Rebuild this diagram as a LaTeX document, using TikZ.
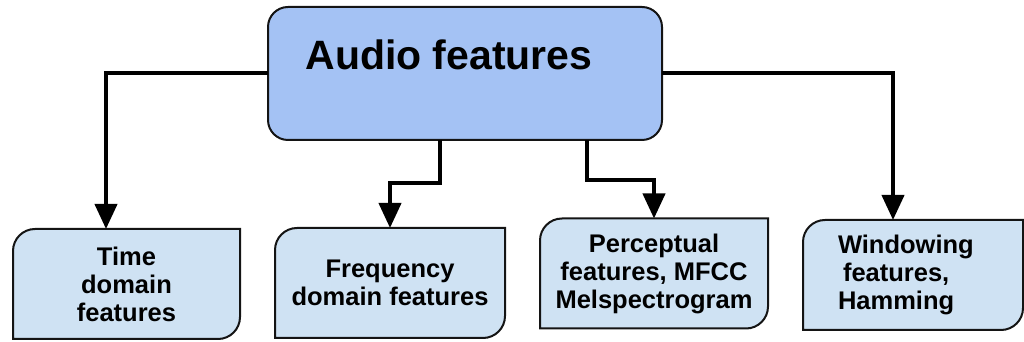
\documentclass[tikz,border=0pt]{standalone}
\usepackage{fontspec}
\setmainfont{Liberation Sans}
\usetikzlibrary{arrows.meta,backgrounds,calc}

\definecolor{topfill}{HTML}{A4C2F4}
\definecolor{lowfill}{HTML}{CFE2F3}
\definecolor{edge}{HTML}{141414}

\tikzset{
  rootbox/.style={draw=edge, line width=2pt, fill=topfill, rounded corners=20pt,
    minimum width=394pt, minimum height=133pt, inner sep=0pt, outer sep=0pt},
  leafbox/.style={inner sep=0pt, outer sep=0pt, minimum height=110pt,
    align=center, font=\fontsize{25.5}{28}\selectfont\bfseries},
  leafshape/.style={draw=edge, line width=2pt, fill=lowfill},
  link/.style={line width=4pt, draw=black, -{Triangle[width=22pt,length=25pt]}},
}

% box with rounded top-left and bottom-right corners, sharp elsewhere
\newcommand\leafoutline[1]{%
  \draw[leafshape] (#1.south west) -- ([yshift=-22pt]#1.north west)
    arc[start angle=180,end angle=90,radius=22pt] -- (#1.north east)
    -- ([yshift=22pt]#1.south east)
    arc[start angle=0,end angle=-90,radius=22pt] -- cycle;}

\begin{document}
\begin{tikzpicture}[x=1pt,y=1pt]
\useasboundingbox (0,0) rectangle (1024,342);

% root
\node[rootbox] (root) at (465,268.5) {};
\node[anchor=base, inner sep=0pt, font=\fontsize{41}{45}\selectfont\bfseries]
  (rootlabel) at (449,272) {Audio features};

% leaves
\node[leafbox, minimum width=227pt] (time) at (126.5,58) {Time\\domain\\features};
\node[leafbox, minimum width=230pt] (freq) at (390,59) {Frequency\\domain features};
\node[leafbox, minimum width=228pt] (perc) at (654,68.5) {Perceptual\\features, MFCC\\Melspectrogram};
\node[leafbox, text width=150pt, inner xsep=35pt, align=left] (wind) at (913,67)
  {Windowing\\\hspace*{5pt}features,\\Hamming};

\begin{scope}[on background layer]
  \leafoutline{time}
  \leafoutline{freq}
  \leafoutline{perc}
  \leafoutline{wind}
\end{scope}

% connectors
\coordinate (tdrop) at ($(time.north west)+(93,0)$);
\coordinate (wdrop) at ($(wind.north west)+(90,0)$);
\coordinate (fstart) at (440,202);
\coordinate (pstart) at (587,202);

\draw[link] (root.west) -| (tdrop);
\draw[link] (root.east) -| (wdrop);
\draw[link] (fstart) -- ++(0,-43) -| (freq.north);
\draw[link] (pstart) -- ++(0,-40) -| (perc.north);
\end{tikzpicture}
\end{document}
